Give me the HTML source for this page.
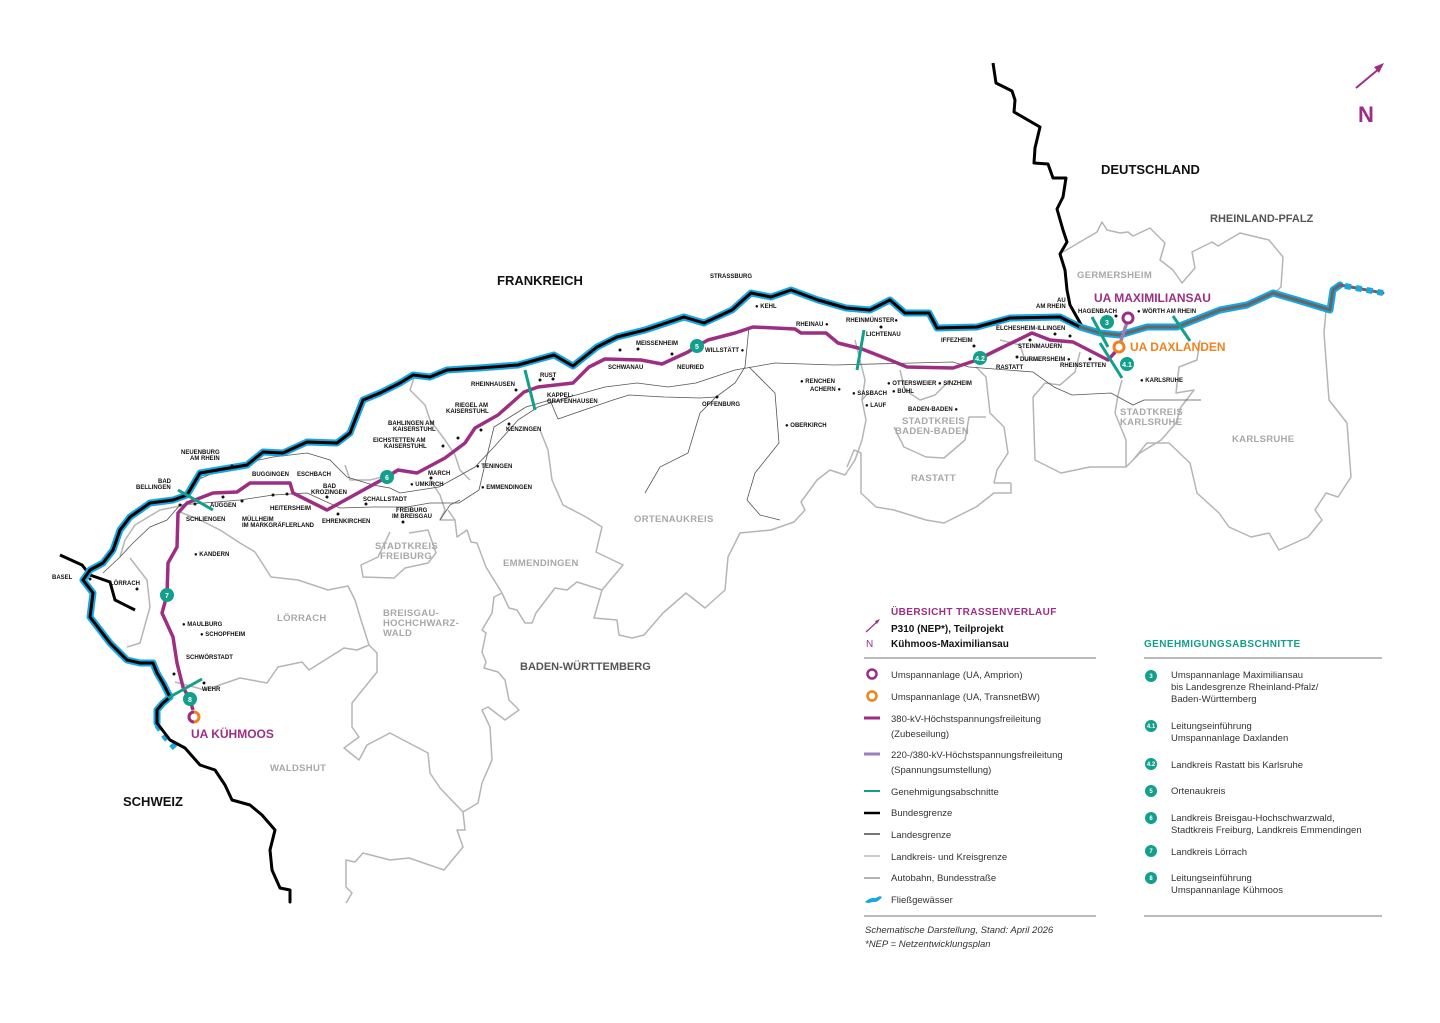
<!DOCTYPE html>
<html><head><meta charset="utf-8"><style>
html,body{margin:0;padding:0;background:#fff;}
body{width:1440px;height:1018px;overflow:hidden;font-family:"Liberation Sans",sans-serif;}
svg text{font-family:"Liberation Sans",sans-serif;}
.c{font-size:6px;font-weight:bold;fill:#111;}
.g{font-size:9.5px;font-weight:bold;fill:#a8a8a8;letter-spacing:.3px;}
.k{fill:none;stroke:#b5b5b5;stroke-width:1.5;stroke-linejoin:round;}
.r{fill:none;stroke:#555;stroke-width:.8;}
.lg{font-size:9.5px;fill:#333;}
</style></head><body>
<svg width="1440" height="1018" viewBox="0 0 1440 1018" xmlns="http://www.w3.org/2000/svg">
<!-- district borders -->
<g class="k">
<polyline points="240,543 255,552 271,577 298,580 328,590 348,586 355,600 361,620 369,645 357,650 344,648 309,670 302,662 278,667 267,683 240,678 205,690 175,682"/>
<polyline points="369,645 377,653 377,672 352,703 352,727 359,737 344,748 359,760 367,745 390,733 409,743 428,753 430,773 440,788 463,812 478,803 482,783 492,760 490,727 482,710 488,707 505,720 519,710 509,700 505,680 498,672 484,668 486,662 482,652 486,633 482,630 492,613 494,597 502,593 486,567 477,543 471,542 467,530 457,537 455,520 448,510"/>
<polyline points="463,812 465,830 457,830 463,847 444,870 409,858 390,860 363,853 355,862 346,860 346,887 352,893 346,903"/>
<polyline points="502,593 509,608 517,610 525,623 532,623 536,613 555,588 567,590 577,582 602,590 594,618 617,620 619,635 632,638 644,635 663,613 686,593 705,608 725,590 728,557 740,533 771,530 794,522 805,510 801,502 817,480 830,470 845,475 855,460 862,440 866,420 862,400 868,393"/>
<polyline points="602,590 623,565 596,552 602,527 586,517 563,505 552,480 548,450 540,430"/>
<polyline points="390,532 378,557 361,565 363,577 394,578 405,568 428,563 436,553 428,530 409,533"/>
<polyline points="240,543 220,530 200,520 180,512"/>
<polyline points="130,558 147,580 150,607 140,643 127,647"/>
<polyline points="120,557 125,540 135,525 160,510 185,505"/>
<polyline points="415,375 410,390 425,405 430,420 445,440 455,455 460,470 470,480"/>
<polyline points="345,465 350,480 370,480 390,475 395,470"/>
<polyline points="430,480 440,495 445,510 440,520 455,520"/>
<polyline points="1063,252 1097,232 1102,222 1107,230 1120,233 1128,232 1133,236 1150,228 1165,243 1160,260 1173,270 1182,283 1195,268 1192,252 1212,242 1218,246 1240,233 1269,240 1283,257 1281,287 1272,295"/>
<polyline points="1326,310 1324,333 1329,400 1347,423 1351,477 1338,497 1326,493 1315,510 1322,520 1308,537 1279,550 1269,533 1251,537 1229,527 1219,513 1197,493 1190,463 1169,443 1147,443 1133,460"/>
<polyline points="1115,413 1126,440 1126,467 1140,453 1161,440 1176,423 1181,407 1194,390 1176,393 1179,367 1197,360 1200,340"/>
<polyline points="1115,413 1118,395 1122,380"/>
<polyline points="1033,397 1035,460 1061,473 1090,467 1111,467 1126,467"/>
<polyline points="1033,397 1045,383 1060,385 1075,372 1080,352"/>
<polyline points="1011,483 994,483 997,470 1008,453 1004,427 990,413 986,377 976,367"/>
<polyline points="1011,483 1011,493 994,493 976,507 944,523 926,520 894,510 876,507 861,493 861,453 854,450 847,467"/>
<polyline points="894,427 904,447 926,457 944,458 965,440 969,417 986,417"/>
<polyline points="900,370 905,390 920,400 935,395 950,380"/>
<polyline points="855,340 860,360 865,380 862,400"/>
<polyline points="1000,340 1020,345 1025,360 1040,360"/>
</g>
<!-- roads -->
<g class="r">
<polyline points="103,573 120,557 133,543 150,527 167,520 180,505"/>
<polyline points="180,500 197,480 227,467 273,457 307,453 330,460 347,477 373,485 390,488 400,493 439,487 475,467 494,447 518,420 538,407 569,397 605,387 637,383 668,387 696,383 735,370 775,363 834,365 913,363 953,362 969,367 1033,372 1054,387 1072,395 1111,393 1133,405 1144,400 1201,400"/>
<polyline points="180,505 240,500 273,495 307,493 340,508 373,507 407,507 430,503 459,503 479,490 486,460 494,427 526,407 550,400 558,419 613,400 629,395 664,397 700,398 716,397 735,383 745,367 749,327"/>
<polyline points="645,493 660,467 688,453 700,413 716,397"/>
<polyline points="749,367 775,393 779,443 755,473 747,500 760,515 780,520"/>
<polyline points="440,520 450,505 460,500"/>
</g>
<!-- borders -->
<polyline fill="none" stroke="#000" stroke-width="3" stroke-linejoin="round" points="993,63 996,83 1012,91 1015,100 1014,112 1040,127 1035,148 1034,163 1048,164 1053,178 1066,178 1063,197 1057,209 1063,230 1067,242 1060,254 1065,270 1067,290 1070,305 1083,328"/>
<polyline fill="none" stroke="#000" stroke-width="3" points="60,555 82,565 90,575 110,582 115,600 135,610"/>
<!-- Rhine -->
<g fill="none" stroke-linejoin="round" stroke-linecap="round">
<polyline id="rh" stroke="#1aa6e0" stroke-width="7" points="157,723 157,710 163,703 170,697 163,683 157,673 153,663 140,663 127,660 110,643 100,630 90,617 93,593 83,580 90,570 103,563 113,550 120,530 130,517 150,503 173,500 187,495 200,473 247,465 263,452 283,453 307,442 337,443 350,433 363,400 380,393 400,383 413,375 430,377 447,370 479,368 518,365 554,355 573,366 597,347 617,337 645,330 684,317 704,323 732,310 751,293 771,297 791,290 818,300 846,308 870,310 890,300 905,313 929,313 937,328 977,327 1010,318 1060,317 1080,327 1100,333 1120,335 1147,327 1177,327 1220,310 1247,305 1273,293 1297,300 1330,310 1333,290 1340,285"/>
<polyline stroke="#000" stroke-width="3" points="157,723 157,710 163,703 170,697 163,683 157,673 153,663 140,663 127,660 110,643 100,630 90,617 93,593 83,580 90,570 103,563 113,550 120,530 130,517 150,503 173,500 187,495 200,473 247,465 263,452 283,453 307,442 337,443 350,433 363,400 380,393 400,383 413,375 430,377 447,370 479,368 518,365 554,355 573,366 597,347 617,337 645,330 684,317 704,323 732,310 751,293 771,297 791,290 818,300 846,308 870,310 890,300 905,313 929,313 937,328 977,327 1010,318 1060,317 1080,327"/>
<polyline stroke="#666" stroke-width="3" points="1080,327 1100,333 1120,335 1147,327 1177,327 1220,310 1247,305 1273,293 1297,300 1330,310 1333,290 1340,285 1383,293"/>
<polyline stroke="#1aa6e0" stroke-width="6" stroke-dasharray="6,5" stroke-linecap="butt" points="1345,286 1383,293"/>
<polyline stroke="#1aa6e0" stroke-width="6" stroke-dasharray="6,6" stroke-linecap="butt" points="157,725 165,737 175,748"/>
<polyline stroke="#000" stroke-width="3" points="157,723 170,740 185,748 200,765 215,770 225,785 232,800 250,805 262,815 275,830 270,850 272,870 280,888 290,890 290,902"/>
</g>
<!-- power line -->
<polyline fill="none" stroke="#9b7fb7" stroke-width="3.5" points="1119,347 1128,319"/>
<polyline fill="none" stroke="#9c2f84" stroke-width="3.5" stroke-linejoin="round" points="193,710 190,700 183,687 177,663 173,637 162,613 167,595 168,563 177,547 178,513 187,503 213,493 237,492 250,483 290,483 293,493 307,500 327,510 387,477 398,470 417,473 445,458 465,443 475,428 498,415 524,392 538,387 573,383 589,367 605,359 641,360 662,364 688,352 697,346 708,340 735,333 753,327 795,329 801,333 826,333 838,343 862,349 890,360 907,367 953,368 977,360 997,350 1032,333 1050,340 1073,342 1108,360 1117,350"/>
<!-- teal segments -->
<g stroke="#12a08a" stroke-width="3">
<line x1="178" y1="490" x2="213" y2="510"/><line x1="168" y1="698" x2="202" y2="679"/>
<line x1="525" y1="370" x2="535" y2="410"/><line x1="864" y1="330" x2="857" y2="370"/>
<line x1="1092" y1="317" x2="1108" y2="347"/><line x1="1100" y1="343" x2="1122" y2="378"/>
<line x1="1173" y1="316" x2="1190" y2="341"/>
</g>
<!-- substations -->
<circle cx="1128" cy="318" r="5" fill="#fff" stroke="#9c2f84" stroke-width="3"/>
<circle cx="1119" cy="347" r="5" fill="#fff" stroke="#f0821e" stroke-width="3"/>
<circle cx="194" cy="717" r="5" fill="#fff" stroke="#f0821e" stroke-width="3"/>
<path d="M194 712 A5 5 0 0 0 194 722" fill="none" stroke="#9c2f84" stroke-width="3"/>
<!-- badges -->
<g font-size="7" font-weight="bold" fill="#fff" text-anchor="middle">
<circle cx="1107" cy="322" r="7" fill="#12a08a"/><text x="1107" y="325">3</text>
<circle cx="1127" cy="364" r="7" fill="#12a08a"/><text x="1127" y="367">4.1</text>
<circle cx="980" cy="358" r="7" fill="#12a08a"/><text x="980" y="361">4.2</text>
<circle cx="697" cy="346" r="7" fill="#12a08a"/><text x="697" y="349">5</text>
<circle cx="387" cy="477" r="7" fill="#12a08a"/><text x="387" y="480">6</text>
<circle cx="167" cy="595" r="7" fill="#12a08a"/><text x="167" y="598">7</text>
<circle cx="190" cy="699" r="7" fill="#12a08a"/><text x="190" y="702">8</text>
</g>
<!-- big labels -->
<g font-weight="bold" font-size="13" fill="#111">
<text x="497" y="285">FRANKREICH</text><text x="1101" y="174">DEUTSCHLAND</text><text x="123" y="806">SCHWEIZ</text>
</g>
<text x="1210" y="222" font-size="11" font-weight="bold" fill="#555">RHEINLAND-PFALZ</text>
<text x="520" y="670" font-size="11" font-weight="bold" fill="#555">BADEN-WÜRTTEMBERG</text>
<text x="1094" y="302" font-size="12" font-weight="bold" fill="#9c2f84">UA MAXIMILIANSAU</text>
<text x="1130" y="351" font-size="12" font-weight="bold" fill="#f0821e">UA DAXLANDEN</text>
<text x="191" y="738" font-size="12" font-weight="bold" fill="#9c2f84">UA KÜHMOOS</text>
<g class="g">
<text x="1077" y="278">GERMERSHEIM</text><text x="1232" y="442">KARLSRUHE</text>
<text x="1120" y="415">STADTKREIS</text><text x="1120" y="425">KARLSRUHE</text>
<text x="902" y="424">STADTKREIS</text><text x="895" y="434">BADEN-BADEN</text>
<text x="911" y="481">RASTATT</text><text x="634" y="522">ORTENAUKREIS</text><text x="503" y="566">EMMENDINGEN</text>
<text x="375" y="549">STADTKREIS</text><text x="380" y="559">FREIBURG</text>
<text x="383" y="616">BREISGAU-</text><text x="383" y="626">HOCHCHWARZ-</text><text x="383" y="636">WALD</text>
<text x="277" y="621">LÖRRACH</text><text x="270" y="771">WALDSHUT</text>
</g>
<!-- city labels -->
<g class="c">
<text x="710" y="278">STRASSBURG</text><text x="755" y="308">● KEHL</text>
<text x="705" y="352">WILLSTÄTT ●</text><text x="636" y="345">MEISSENHEIM</text><text x="608" y="369">SCHWANAU</text><text x="677" y="369">NEURIED</text>
<text x="796" y="326">RHEINAU ●</text><text x="846" y="322">RHEINMÜNSTER●</text><text x="866" y="336">LICHTENAU</text>
<text x="941" y="342">IFFEZHEIM</text><text x="800" y="383">● RENCHEN</text><text x="810" y="391">ACHERN ●</text><text x="852" y="395">● SASBACH</text><text x="865" y="407">● LAUF</text>
<text x="887" y="385">● OTTERSWEIER ● SINZHEIM</text><text x="892" y="393">● BÜHL</text><text x="908" y="411">BADEN-BADEN ●</text>
<text x="785" y="427">● OBERKIRCH</text><text x="702" y="406">OFFENBURG</text>
<text x="540" y="377">RUST</text><text x="471" y="386">RHEINHAUSEN</text><text x="547" y="397">KAPPEL-</text><text x="547" y="403">GRAFENHAUSEN</text>
<text x="455" y="407">RIEGEL AM</text><text x="446" y="413">KAISERSTUHL</text><text x="388" y="425">BAHLINGEN AM</text><text x="393" y="431">KAISERSTUHL</text>
<text x="373" y="442">EICHSTETTEN AM</text><text x="384" y="448">KAISERSTUHL</text><text x="506" y="431">KENZINGEN</text>
<text x="476" y="468">● TENINGEN</text><text x="481" y="489">● EMMENDINGEN</text><text x="428" y="475">MARCH</text><text x="410" y="486">● UMKIRCH</text>
<text x="181" y="454">NEUENBURG</text><text x="190" y="460">AM RHEIN</text><text x="158" y="483">BAD</text><text x="136" y="489">BELLINGEN</text>
<text x="252" y="476">BUGGINGEN</text><text x="297" y="476">ESCHBACH</text><text x="323" y="488">BAD</text><text x="311" y="494">KROZINGEN</text>
<text x="363" y="501">SCHALLSTADT</text><text x="270" y="510">HEITERSHEIM</text><text x="210" y="507">AUGGEN</text><text x="186" y="521">SCHLIENGEN</text>
<text x="242" y="521">MÜLLHEIM</text><text x="242" y="527">IM MARKGRÄFLERLAND</text><text x="322" y="523">EHRENKIRCHEN</text>
<text x="396" y="512">FREIBURG</text><text x="392" y="518">IM BREISGAU</text>
<text x="194" y="556">● KANDERN</text><text x="52" y="579">BASEL</text><text x="110" y="585">LÖRRACH</text>
<text x="182" y="626">● MAULBURG</text><text x="200" y="636">● SCHOPFHEIM</text><text x="186" y="659">SCHWÖRSTADT</text><text x="202" y="691">WEHR</text>
<text x="1057" y="302">AU</text><text x="1036" y="308">AM RHEIN</text><text x="1078" y="313">HAGENBACH</text><text x="1137" y="313">● WÖRTH AM RHEIN</text>
<text x="996" y="330">ELCHESHEIM-ILLINGEN</text><text x="1018" y="348">STEINMAUERN</text><text x="1020" y="361">DURMERSHEIM ●</text><text x="996" y="369">RASTATT</text><text x="1060" y="367">RHEINSTETTEN</text>
<text x="1140" y="382">● KARLSRUHE</text>
</g>
<g fill="#111">
<circle cx="232" cy="466" r="1.5"/><circle cx="180" cy="505" r="1.5"/><circle cx="223" cy="497" r="1.5"/><circle cx="273" cy="495" r="1.5"/><circle cx="287" cy="494" r="1.5"/><circle cx="327" cy="497" r="1.5"/><circle cx="338" cy="514" r="1.5"/><circle cx="366" cy="504" r="1.5"/><circle cx="195" cy="504" r="1.5"/><circle cx="242" cy="501" r="1.5"/><circle cx="403" cy="522" r="1.5"/>
<circle cx="458" cy="438" r="1.5"/><circle cx="443" cy="446" r="1.5"/><circle cx="481" cy="430" r="1.5"/><circle cx="509" cy="424" r="1.5"/><circle cx="516" cy="390" r="1.5"/><circle cx="540" cy="380" r="1.5"/><circle cx="553" cy="379" r="1.5"/><circle cx="431" cy="478" r="1.5"/>
<circle cx="620" cy="350" r="1.5"/><circle cx="638" cy="349" r="1.5"/><circle cx="672" cy="354" r="1.5"/><circle cx="717" cy="397" r="1.5"/><circle cx="1017" cy="357" r="1.5"/><circle cx="1030" cy="340" r="1.5"/><circle cx="1055" cy="334" r="1.5"/><circle cx="1070" cy="336" r="1.5"/><circle cx="1090" cy="359" r="1.5"/><circle cx="1116" cy="316" r="1.5"/><circle cx="974" cy="346" r="1.5"/><circle cx="881" cy="327" r="1.5"/>
<circle cx="90" cy="579" r="1.5"/><circle cx="137" cy="589" r="1.5"/><circle cx="174" cy="674" r="1.5"/><circle cx="204" cy="683" r="1.5"/>
</g>
<!-- north arrow -->
<line x1="1356" y1="88" x2="1380" y2="68" stroke="#9c2f84" stroke-width="2"/>
<polygon points="1384,63 1374,67 1379,73" fill="#9c2f84"/>
<text x="1358" y="122" font-size="22" font-weight="bold" fill="#9c2f84">N</text>
<!-- legend -->
<text x="891" y="615" font-size="10" font-weight="bold" fill="#9c2f84" letter-spacing=".4">ÜBERSICHT TRASSENVERLAUF</text>
<text x="891" y="632" font-size="10" font-weight="bold" fill="#111">P310 (NEP*), Teilprojekt</text>
<text x="891" y="647" font-size="10" font-weight="bold" fill="#111">Kühmoos-Maximiliansau</text>
<line x1="866" y1="632" x2="878" y2="621" stroke="#9c2f84" stroke-width="1.2"/><polygon points="880,619 875,621 877,624" fill="#9c2f84"/>
<text x="866" y="647" font-size="10" fill="#9c2f84">N</text>
<text x="1144" y="647" font-size="10" font-weight="bold" fill="#12a08a" letter-spacing=".4">GENEHMIGUNGSABSCHNITTE</text>
<line x1="864" y1="658" x2="1096" y2="658" stroke="#777" stroke-width="1"/>
<line x1="1144" y1="658" x2="1382" y2="658" stroke="#777" stroke-width="1"/>
<line x1="864" y1="916" x2="1096" y2="916" stroke="#777" stroke-width="1"/>
<line x1="1144" y1="916" x2="1382" y2="916" stroke="#777" stroke-width="1"/>
<circle cx="872" cy="674" r="4.5" fill="none" stroke="#9c2f84" stroke-width="2.5"/>
<circle cx="872" cy="696" r="4.5" fill="none" stroke="#f0821e" stroke-width="2.5"/>
<line x1="864" y1="718" x2="880" y2="718" stroke="#9c2f84" stroke-width="3"/>
<line x1="864" y1="754" x2="880" y2="754" stroke="#9b7fb7" stroke-width="3"/>
<line x1="864" y1="791" x2="880" y2="791" stroke="#12a08a" stroke-width="2"/>
<line x1="864" y1="813" x2="880" y2="813" stroke="#000" stroke-width="2.5"/>
<line x1="864" y1="834" x2="880" y2="834" stroke="#777" stroke-width="2"/>
<line x1="864" y1="856" x2="880" y2="856" stroke="#bbb" stroke-width="1.5"/>
<line x1="864" y1="878" x2="880" y2="878" stroke="#444" stroke-width=".8"/>
<path d="M865 902 Q870 897 876 898 Q880 895 882 897 Q878 903 872 902 Q868 904 865 902Z" fill="#1aa6e0"/>
<g class="lg">
<text x="891" y="678">Umspannanlage (UA, Amprion)</text>
<text x="891" y="700">Umspannanlage (UA, TransnetBW)</text>
<text x="891" y="722">380-kV-Höchstspannungsfreileitung</text><text x="891" y="737">(Zubeseilung)</text>
<text x="891" y="758">220-/380-kV-Höchstspannungsfreileitung</text><text x="891" y="773">(Spannungsumstellung)</text>
<text x="891" y="795">Genehmigungsabschnitte</text><text x="891" y="816">Bundesgrenze</text>
<text x="891" y="838">Landesgrenze</text><text x="891" y="860">Landkreis- und Kreisgrenze</text>
<text x="891" y="881">Autobahn, Bundesstraße</text><text x="891" y="903">Fließgewässer</text>
<text x="1171" y="678">Umspannanlage Maximiliansau</text><text x="1171" y="690">bis Landesgrenze Rheinland-Pfalz/</text><text x="1171" y="702">Baden-Württemberg</text>
<text x="1171" y="729">Leitungseinführung</text><text x="1171" y="741">Umspannanlage Daxlanden</text>
<text x="1171" y="768">Landkreis Rastatt bis Karlsruhe</text>
<text x="1171" y="794">Ortenaukreis</text>
<text x="1171" y="821">Landkreis Breisgau-Hochschwarzwald,</text><text x="1171" y="833">Stadtkreis Freiburg, Landkreis Emmendingen</text>
<text x="1171" y="855">Landkreis Lörrach</text>
<text x="1171" y="881">Leitungseinführung</text><text x="1171" y="893">Umspannanlage Kühmoos</text>
</g>
<g font-size="6" font-weight="bold" fill="#fff" text-anchor="middle">
<circle cx="1151" cy="676" r="6" fill="#12a08a"/><text x="1151" y="678">3</text>
<circle cx="1151" cy="726" r="6" fill="#12a08a"/><text x="1151" y="728">4.1</text>
<circle cx="1151" cy="764" r="6" fill="#12a08a"/><text x="1151" y="766">4.2</text>
<circle cx="1151" cy="791" r="6" fill="#12a08a"/><text x="1151" y="793">5</text>
<circle cx="1151" cy="818" r="6" fill="#12a08a"/><text x="1151" y="820">6</text>
<circle cx="1151" cy="851" r="6" fill="#12a08a"/><text x="1151" y="853">7</text>
<circle cx="1151" cy="878" r="6" fill="#12a08a"/><text x="1151" y="880">8</text>
</g>
<text x="865" y="933" font-size="9.5" font-style="italic" fill="#333">Schematische Darstellung, Stand: April 2026</text>
<text x="865" y="947" font-size="9.5" font-style="italic" fill="#333">*NEP = Netzentwicklungsplan</text>
</svg>
</body></html>
